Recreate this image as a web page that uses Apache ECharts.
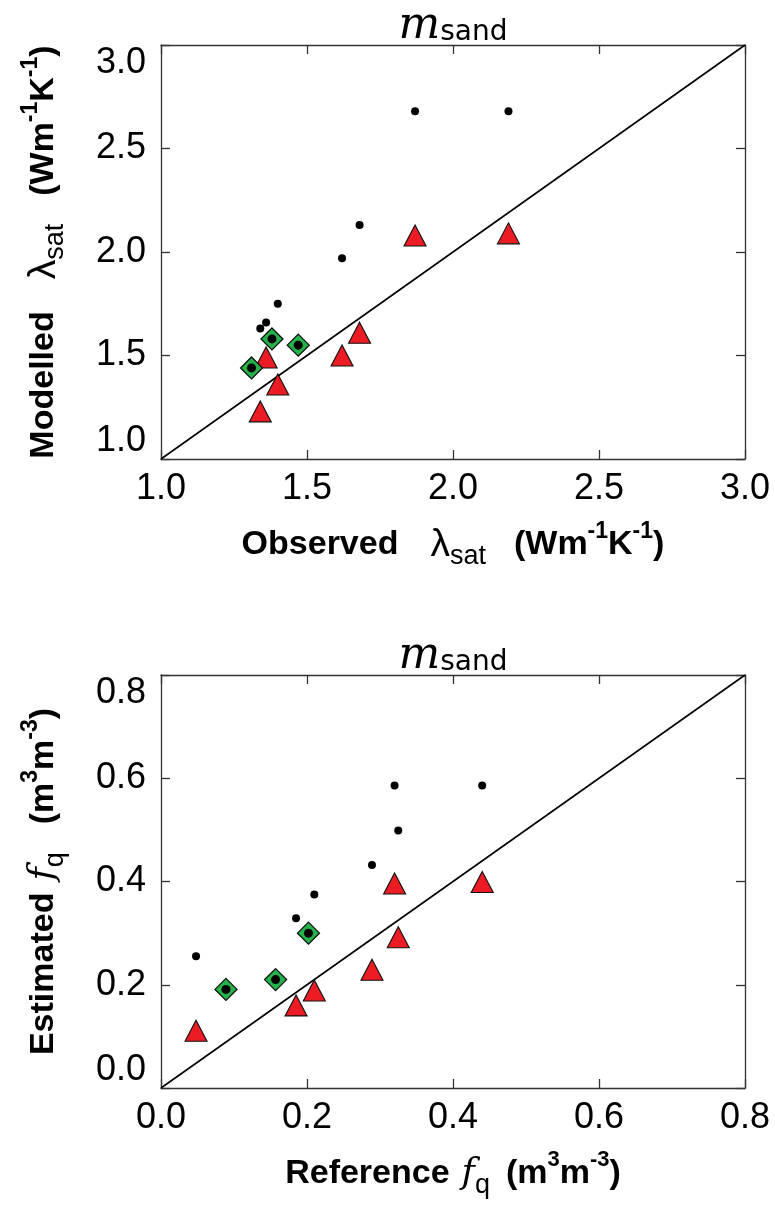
<!DOCTYPE html>
<html><head><meta charset="utf-8">
<script src="https://cdn.jsdelivr.net/npm/echarts@6/dist/echarts.min.js"></script>
<style>html,body{margin:0;padding:0;background:#fff}#c{width:775px;height:1205px}</style>
</head><body><div id="c"></div>
<script>
// ---- Top panel: thermal conductivity (lambda_sat) ----
const topX         = [1.34, 1.36, 1.40, 1.62, 1.68, 1.87, 2.19];
const topDots      = [1.63, 1.66, 1.75, 1.97, 2.13, 2.68, 2.68];
const topTriangles = [1.23, 1.49, 1.36, 1.50, 1.61, 2.08, 2.09];
const topDiamondX  = [1.31, 1.38, 1.47];
const topDiamondY  = [1.44, 1.58, 1.55];
const topRange     = [1.0, 3.0];
const topInterval  = 0.5;

// ---- Bottom panel: quartz fraction f_q ----
const botX         = [0.048, 0.185, 0.21, 0.289, 0.32, 0.325, 0.44];
const botDots      = [0.255, 0.329, 0.375, 0.432, 0.586, 0.499, 0.586];
const botTriangles = [0.111, 0.160, 0.189, 0.229, 0.396, 0.292, 0.399];
const botDiamondX  = [0.089, 0.157, 0.202];
const botDiamondY  = [0.191, 0.210, 0.300];
const botRange     = [0.0, 0.8];
const botInterval  = 0.2;

const SANS = 'Liberation Sans';
const FRAME = '#333';

function pairs(xs, ys) { return xs.map((x, i) => [x, ys[i]]); }

const rich = {
  b:    {fontFamily: SANS, fontWeight: 'bold', fontSize: 34, lineHeight: 50, color: '#000'},
  l:    {fontFamily: SANS, fontSize: 39, lineHeight: 50, color: '#000'},
  f:    {fontFamily: 'DejaVu Serif', fontStyle: 'italic', fontSize: 36, lineHeight: 50, color: '#000'},
  sub:  {fontFamily: SANS, fontSize: 27, lineHeight: 27, verticalAlign: 'bottom', color: '#000'},
  sup:  {fontFamily: SANS, fontWeight: 'bold', fontSize: 23, lineHeight: 24, verticalAlign: 'top', color: '#000'},
  sup2: {fontFamily: SANS, fontWeight: 'bold', fontSize: 22, lineHeight: 38, verticalAlign: 'top', color: '#000'},
  g1:   {width: 32, lineHeight: 50},
  g2:   {width: 28, lineHeight: 50},
  g3:   {width: 12, lineHeight: 50},
  g4:   {width: 16, lineHeight: 50}
};

const grids = [
  {left: 161, top: 45, width: 584, height: 414},
  {left: 161, top: 675, width: 584, height: 413}
];

function xAxes(gi, range, interval, name) {
  const common = {
    type: 'value', gridIndex: gi, min: range[0], max: range[1], interval: interval,
    axisLine: {show: true, onZero: false, lineStyle: {color: FRAME, width: 1.3}},
    axisTick: {show: true, inside: true, length: 9, lineStyle: {color: FRAME, width: 1.3}},
    splitLine: {show: false}
  };
  return [
    Object.assign({}, common, {
      position: 'bottom',
      axisLabel: {show: true, margin: 12, fontFamily: SANS, fontSize: 36, color: '#000',
                  formatter: v => v.toFixed(1)},
      name: name, nameLocation: 'middle', nameGap: 61,
      nameTextStyle: {rich: rich}
    }),
    Object.assign({}, common, {position: 'top', axisLabel: {show: false}})
  ];
}
function yAxes(gi, range, interval, name) {
  const common = {
    type: 'value', gridIndex: gi, min: range[0], max: range[1], interval: interval,
    axisLine: {show: true, onZero: false, lineStyle: {color: FRAME, width: 1.3}},
    axisTick: {show: true, inside: true, length: 9, lineStyle: {color: FRAME, width: 1.3}},
    splitLine: {show: false}
  };
  return [
    Object.assign({}, common, {
      position: 'left',
      axisLabel: {show: true, margin: 15, fontFamily: SANS, fontSize: 36, color: '#000',
                  formatter: v => v.toFixed(1),
                  verticalAlignMaxLabel: 'top', verticalAlignMinLabel: 'bottom'},
      name: name, nameLocation: 'middle', nameGap: 92,
      nameTextStyle: {rich: rich}
    }),
    Object.assign({}, common, {position: 'right', axisLabel: {show: false}})
  ];
}

function panelSeries(gi, range, xs, dots, tris, dx, dy) {
  const xi = gi * 2, yi = gi * 2;
  return [
    {type: 'line', xAxisIndex: xi, yAxisIndex: yi, data: [[range[0], range[0]], [range[1], range[1]]],
     symbol: 'none', silent: true, lineStyle: {color: '#000', width: 1.6}, z: 1},
    {type: 'scatter', xAxisIndex: xi, yAxisIndex: yi, data: pairs(xs, tris), symbol: 'triangle',
     symbolSize: [22, 21], itemStyle: {color: '#EC1C24', borderColor: '#111', borderWidth: 1.1, opacity: 1}, z: 3},
    {type: 'scatter', xAxisIndex: xi, yAxisIndex: yi, data: pairs(dx, dy), symbol: 'diamond',
     symbolSize: 22, itemStyle: {color: '#25B24A', borderColor: '#111', borderWidth: 1.3, opacity: 1}, z: 4},
    {type: 'scatter', xAxisIndex: xi, yAxisIndex: yi, data: pairs(xs, dots), symbol: 'circle',
     symbolSize: 8, itemStyle: {color: '#000', opacity: 1}, z: 5},
    {type: 'scatter', xAxisIndex: xi, yAxisIndex: yi, data: pairs(dx, dy), symbol: 'circle',
     symbolSize: 9, itemStyle: {color: '#000', opacity: 1}, z: 6}
  ];
}

const titleRich = {
  m: {fontFamily: 'DejaVu Serif', fontStyle: 'italic', fontSize: 44, lineHeight: 42, verticalAlign: 'top', fill: '#000'},
  s: {fontFamily: 'DejaVu Sans', fontSize: 28, lineHeight: 28, verticalAlign: 'bottom', fill: '#000'}
};

const option = {
  backgroundColor: '#fff',
  animation: false,
  grid: grids,
  xAxis: [].concat(
    xAxes(0, topRange, topInterval, '{b|Observed}{g1| }{l|λ}{sub|sat}{g2| }{b|(Wm}{sup|-1}{b|K}{sup|-1}{b|)}'),
    xAxes(1, botRange, botInterval, '{b|Reference}{g3| }{f|f}{sub|q}{g4| }{b|(m}{sup2|3}{b|m}{sup2|-3}{b|)}')
  ),
  yAxis: [].concat(
    yAxes(0, topRange, topInterval, '{b|Modelled}{g1| }{l|λ}{sub|sat}{g2| }{b|(Wm}{sup|-1}{b|K}{sup|-1}{b|)}'),
    yAxes(1, botRange, botInterval, '{b|Estimated}{g3| }{f|f}{sub|q}{g2| }{b|(m}{sup|3}{b|m}{sup|-3}{b|)}')
  ),
  series: [].concat(
    panelSeries(0, topRange, topX, topDots, topTriangles, topDiamondX, topDiamondY),
    panelSeries(1, botRange, botX, botDots, botTriangles, botDiamondX, botDiamondY)
  ),
  graphic: grids.map(g => ({
    type: 'text', x: g.left + g.width / 2, y: g.top + 2, z: 10,
    style: {text: '{m|m}{s|sand}', rich: titleRich, align: 'center', verticalAlign: 'bottom'}
  }))
};

const chart = echarts.init(document.getElementById('c'), null, {renderer: 'canvas'});
chart.setOption(option);
</script>
</body></html>
